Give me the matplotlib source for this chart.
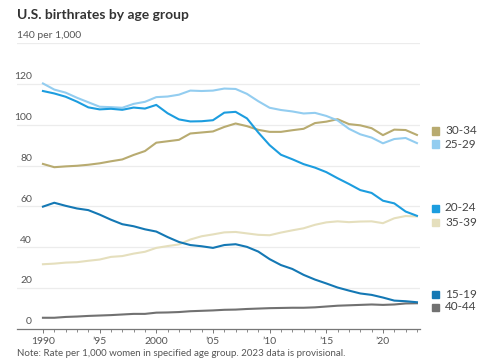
import numpy as np
import matplotlib.pyplot as plt

years = np.arange(1990, 2024)

rate_15_19 = [59.9, 61.8, 60.3, 59.0, 58.2, 56.0, 53.5, 51.3, 50.3, 48.8, 47.7, 45.0, 42.6, 41.1,
              40.5, 39.7, 41.1, 41.5, 40.2, 37.9, 34.2, 31.3, 29.4, 26.5, 24.2, 22.3, 20.3, 18.8,
              17.4, 16.7, 15.4, 13.9, 13.6, 13.1]
rate_20_24 = [116.5, 115.3, 113.7, 111.3, 108.5, 107.5, 107.8, 107.3, 108.4, 107.9, 109.7, 105.6,
              102.6, 101.6, 101.7, 102.2, 105.9, 106.3, 103.1, 96.2, 90.0, 85.3, 83.1, 80.7, 79.0,
              76.8, 73.8, 71.0, 68.0, 66.6, 62.8, 61.5, 57.5, 55.4]
rate_25_29 = [120.2, 117.2, 115.7, 113.2, 111.0, 108.8, 108.6, 108.3, 110.2, 111.2, 113.5, 113.8,
              114.7, 116.7, 116.5, 116.7, 117.7, 117.5, 115.1, 111.5, 108.3, 107.2, 106.5, 105.5,
              105.8, 104.3, 102.1, 98.0, 95.3, 93.7, 90.9, 93.0, 93.5, 91.0]
rate_30_34 = [80.8, 79.2, 79.6, 79.9, 80.4, 81.1, 82.1, 83.0, 85.2, 87.1, 91.2, 91.9, 92.6, 95.7,
              96.2, 96.7, 98.9, 100.6, 99.3, 97.5, 96.5, 96.5, 97.3, 98.0, 100.8, 101.5, 102.7,
              100.3, 99.7, 98.3, 94.9, 97.6, 97.4, 95.0]
rate_35_39 = [31.7, 32.0, 32.5, 32.7, 33.4, 34.0, 35.3, 35.7, 36.9, 37.8, 39.7, 40.6, 41.4, 43.8,
              45.4, 46.3, 47.3, 47.5, 46.8, 46.1, 45.9, 47.2, 48.3, 49.3, 51.0, 52.2, 52.7, 52.3,
              52.6, 52.7, 51.8, 54.2, 55.3, 55.1]
rate_40_44 = [5.5, 5.5, 5.9, 6.1, 6.4, 6.6, 6.8, 7.1, 7.4, 7.4, 8.0, 8.1, 8.3, 8.7, 8.9, 9.1, 9.4,
              9.5, 9.8, 10.0, 10.2, 10.3, 10.4, 10.4, 10.6, 11.0, 11.4, 11.6, 11.8, 12.0, 11.8,
              12.0, 12.5, 12.6]

groups = ['40-44', '35-39', '30-34', '25-29', '20-24', '15-19']
series = [rate_40_44, rate_35_39, rate_30_34, rate_25_29, rate_20_24, rate_15_19]
colors = {'15-19': '#1478b4', '20-24': '#1c9ddf', '25-29': '#93cdf0',
          '30-34': '#b8ab70', '35-39': '#e5dfbd', '40-44': '#717171'}

# legend rows (label, y pixel from top)
legend_rows = [('30-34', 131), ('25-29', 144), ('20-24', 208),
               ('35-39', 222), ('15-19', 294), ('40-44', 307)]

yticks = [0, 20, 40, 60, 80, 100, 120, 140]
xticks = [1990, 1995, 2000, 2005, 2010, 2015, 2020]
xlabels = ['1990', "’95", '2000', "’05", "’10", "’15", "’20"]

plt.rcParams['font.family'] = ['Lato', 'DejaVu Sans']

W, H = 485, 360
fig = plt.figure(figsize=(W / 100, H / 100), dpi=100)
ax = fig.add_axes([17 / W, 1 - 329 / H, (420 - 17) / W, (329 - 43) / H])
ax.set_xlim(1987.71, 2023.27)
ax.set_ylim(0, 140)

for v in yticks[1:]:
    ax.axhline(v, color='#ececec', lw=0.9, zorder=0)

for name, vals in zip(groups, series):
    ax.plot(years, vals, color=colors[name], lw=1.5, solid_joinstyle='round', zorder=2)

for s in ['top', 'right', 'left']:
    ax.spines[s].set_visible(False)
ax.spines['bottom'].set_color('#777777')
ax.spines['bottom'].set_linewidth(0.9)
ax.set_yticks([])
ax.set_xticks(xticks)
ax.set_xticklabels(xlabels, fontsize=7.5, color='#555555')
ax.set_xticks(years, minor=True)
ax.tick_params(axis='x', which='major', length=3, width=0.7, color='#777777', pad=3)
ax.tick_params(axis='x', which='minor', length=2, width=0.6, color='#777777')

for v in yticks:
    if v == 140:
        ax.text(17 / W, 1 - 36 / H, '140 per 1,000', transform=fig.transFigure,
                fontsize=7.5, color='#555555', ha='left', va='center')
    else:
        ax.text((32 - 17) / (420 - 17), v + 3.5, str(v), transform=ax.get_yaxis_transform(),
                fontsize=7.5, color='#555555', ha='right', va='center')

fig.text(17 / W, 1 - 15 / H, 'U.S. birthrates by age group', fontsize=10,
         fontweight='bold', color='#333333', ha='left', va='center')

for name, ypx in legend_rows:
    fig.patches.append(plt.Rectangle((432 / W, 1 - (ypx + 3.5) / H), 7 / W, 7 / H,
                                     transform=fig.transFigure, color=colors[name]))
    fig.text(445 / W, 1 - ypx / H, name, fontsize=8.5, color='#444444', ha='left', va='center')

fig.text(17 / W, 2 / H,
         'Note: Rate per 1,000 women in specified age group. 2023 data is provisional.',
         fontsize=7, color='#555555', ha='left', va='bottom')

fig.savefig('out.png', dpi=100)
